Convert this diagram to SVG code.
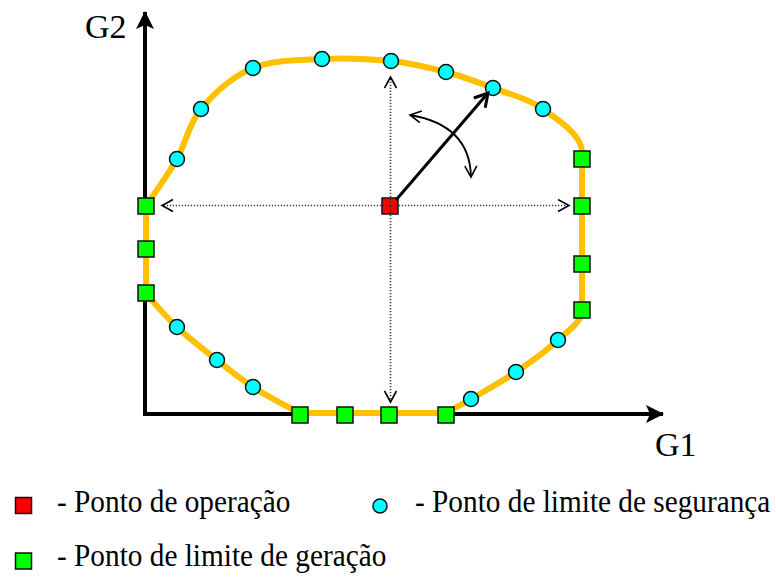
<svg xmlns="http://www.w3.org/2000/svg" width="776" height="579" viewBox="0 0 776 579">
<style>
.axis{stroke:#000;stroke-width:4;fill:none}
.limit{stroke:#FFC000;stroke-width:6;fill:none;stroke-linejoin:round}
.dot{stroke:#333;stroke-width:1.6;stroke-dasharray:1.2 1.8;fill:none}
.gen{fill:#00FF00;stroke:#111;stroke-width:1.5}
.op{fill:#FF0000;stroke:#111;stroke-width:1.5}
.sec{fill:#00FFFF;stroke:#111;stroke-width:1.5}
.lbl{font-family:"Liberation Serif","Times New Roman",serif;fill:#000}
.leg{font-family:"Liberation Serif","Times New Roman",serif;fill:#000;font-size:29.3px}
</style>
<defs>
<marker id="axhead" markerUnits="userSpaceOnUse" markerWidth="20" markerHeight="20" refX="17" refY="9" orient="auto">
<path d="M0,0 L18,9 L0,18 L4,9 Z" fill="#000"/>
</marker>
<marker id="chev" markerUnits="userSpaceOnUse" markerWidth="16" markerHeight="16" refX="12" refY="7" orient="auto-start-reverse">
<path d="M1,1 L12,7 L1,13" fill="none" stroke="#000" stroke-width="1.6"/>
</marker>
<marker id="chevb" markerUnits="userSpaceOnUse" markerWidth="20" markerHeight="20" refX="14" refY="9" orient="auto">
<path d="M1,1.5 L14,9 L1,16.5" fill="none" stroke="#000" stroke-width="3"/>
</marker>
</defs>
<g id="axes">
<line class="axis" x1="145" y1="416" x2="145" y2="12" marker-end="url(#axhead)"/>
<line class="axis" x1="143" y1="414" x2="663" y2="414" marker-end="url(#axhead)"/>
<text class="lbl" x="85" y="38" font-size="34">G2</text>
<text class="lbl" x="655" y="456" font-size="34">G1</text>
</g>
<g id="limit-curve">
<path class="limit" d="M 146 206 C 156.3 190.3 167.8 175.2 177 159 C 186.2 142.8 188.3 124.2 201 109 C 213.7 93.8 232.8 76.3 253 68 C 273.2 59.7 299 60.2 322 59 C 345 57.8 370.3 58.8 391 61 C 411.7 63.2 429 67.5 446 72 C 463 76.5 476.8 81.8 493 88 C 509.2 94.2 528.2 98.3 543 109 C 557.8 119.7 582 135 582 152 L 582 310 C 582 322 569 329.7 558 340 C 547 350.3 530.5 362.2 516 372 C 501.5 381.8 482.7 392.2 471 399 C 459.3 405.8 452 410 446 413 L 300 413 C 290 408 266.8 395.8 253 387 C 239.2 378.2 229.7 370 217 360 C 204.3 350 188.8 338.2 177 327 C 165.2 315.8 150 298 146 293 Z"/>
</g>
<g id="sec-points">
<circle class="sec" cx="177" cy="159" r="7.5"/>
<circle class="sec" cx="201" cy="109" r="7.5"/>
<circle class="sec" cx="253" cy="68" r="7.5"/>
<circle class="sec" cx="322" cy="59" r="7.5"/>
<circle class="sec" cx="391" cy="61" r="7.5"/>
<circle class="sec" cx="446" cy="72" r="7.5"/>
<circle class="sec" cx="493" cy="88" r="7.5"/>
<circle class="sec" cx="543" cy="109" r="7.5"/>
<circle class="sec" cx="558" cy="340" r="7.5"/>
<circle class="sec" cx="516" cy="372" r="7.5"/>
<circle class="sec" cx="471" cy="399" r="7.5"/>
<circle class="sec" cx="253" cy="387" r="7.5"/>
<circle class="sec" cx="217" cy="360" r="7.5"/>
<circle class="sec" cx="177" cy="327" r="7.5"/>
</g>
<g id="gen-points">
<rect class="gen" x="138" y="198" width="16" height="16"/>
<rect class="gen" x="138" y="241" width="16" height="16"/>
<rect class="gen" x="138" y="285" width="16" height="16"/>
<rect class="gen" x="574" y="151" width="16" height="16"/>
<rect class="gen" x="574" y="198" width="16" height="16"/>
<rect class="gen" x="574" y="256" width="16" height="16"/>
<rect class="gen" x="574" y="302" width="16" height="16"/>
<rect class="gen" x="292" y="407" width="16" height="16"/>
<rect class="gen" x="337" y="407" width="16" height="16"/>
<rect class="gen" x="381" y="407" width="16" height="16"/>
<rect class="gen" x="438" y="407" width="16" height="16"/>
</g>
<g id="op-point">
<rect class="op" x="382" y="198" width="16" height="16"/>
</g>
<g id="connectors">
<line class="dot" x1="390" y1="205.5" x2="162" y2="205.5" marker-end="url(#chev)"/>
<line class="dot" x1="390" y1="205.5" x2="569" y2="205.5" marker-end="url(#chev)"/>
<line class="dot" x1="390.5" y1="206" x2="390.5" y2="77" marker-end="url(#chev)"/>
<line class="dot" x1="390.5" y1="206" x2="390.5" y2="402" marker-end="url(#chev)"/>
<line x1="396" y1="200" x2="488" y2="93" stroke="#000" stroke-width="3" marker-end="url(#chevb)"/>
<path d="M 410 115 Q 470 125 471 177" fill="none" stroke="#000" stroke-width="1.8" marker-start="url(#chev)" marker-end="url(#chev)"/>
</g>
<g id="legend-op">
<rect class="op" x="15.5" y="497.5" width="16" height="16"/>
<text class="leg" transform="translate(57,512) scale(1,1.1)" x="0" y="0">- Ponto de operação</text>
</g>
<g id="legend-sec">
<circle class="sec" cx="380" cy="506" r="7"/>
<text class="leg" transform="translate(415,512) scale(1,1.1)" x="0" y="0">- Ponto de limite de segurança</text>
</g>
<g id="legend-gen">
<rect class="gen" x="15.5" y="553" width="16" height="16"/>
<text class="leg" transform="translate(57,566) scale(1,1.1)" x="0" y="0">- Ponto de limite de geração</text>
</g>
</svg>
